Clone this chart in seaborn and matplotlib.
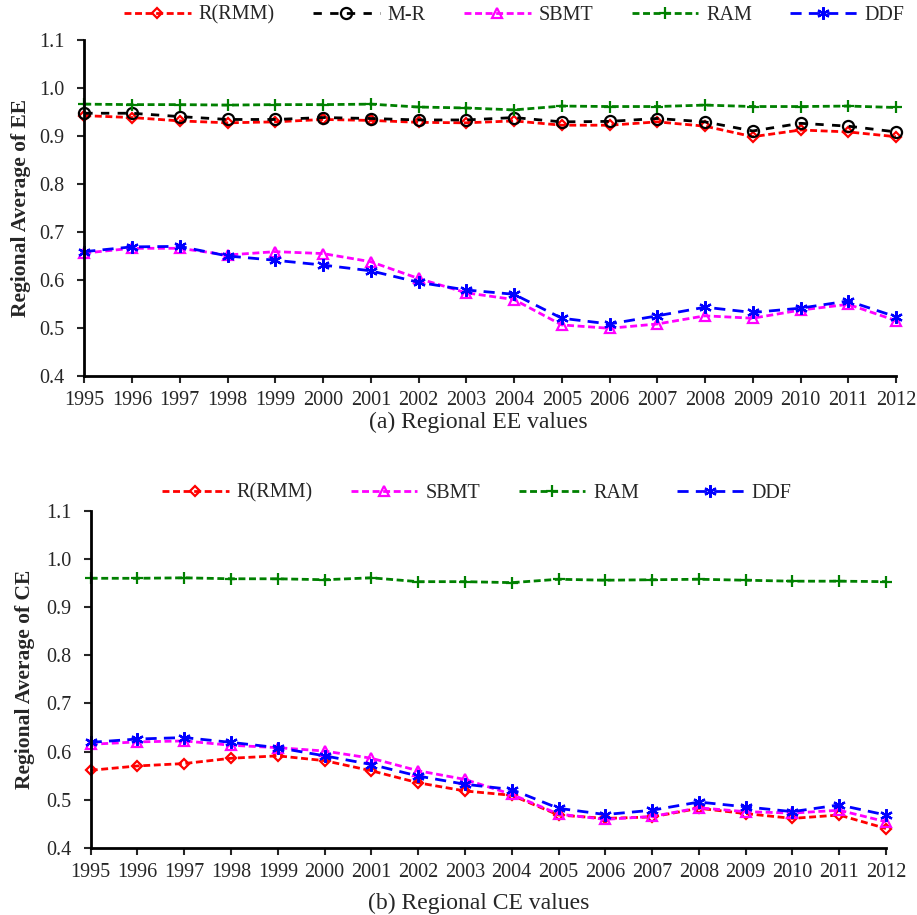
import numpy as np
import pandas as pd
import matplotlib
matplotlib.use("Agg")
import matplotlib.pyplot as plt
import seaborn as sns

years = list(range(1995, 2013))

# (a) Regional EE values
r_rmm_ee = [0.943, 0.939, 0.932, 0.928, 0.930, 0.935, 0.933, 0.929, 0.928,
            0.932, 0.923, 0.923, 0.930, 0.921, 0.899, 0.913, 0.909, 0.899]
mr_ee = [0.948, 0.948, 0.941, 0.935, 0.935, 0.939, 0.937, 0.934, 0.934,
         0.939, 0.930, 0.931, 0.937, 0.930, 0.911, 0.927, 0.921, 0.909]
sbmt_ee = [0.656, 0.666, 0.666, 0.652, 0.659, 0.655, 0.638, 0.603, 0.573,
           0.559, 0.506, 0.499, 0.508, 0.525, 0.520, 0.537, 0.549, 0.515]
ram_ee = [0.967, 0.966, 0.966, 0.965, 0.966, 0.966, 0.967, 0.961, 0.959,
          0.955, 0.963, 0.962, 0.962, 0.965, 0.962, 0.962, 0.963, 0.960]
ddf_ee = [0.659, 0.669, 0.670, 0.650, 0.641, 0.631, 0.619, 0.595, 0.579,
          0.570, 0.520, 0.508, 0.525, 0.543, 0.532, 0.541, 0.556, 0.523]

# (b) Regional CE values
r_rmm_ce = [0.561, 0.570, 0.575, 0.586, 0.591, 0.581, 0.560, 0.535, 0.518,
            0.509, 0.468, 0.461, 0.464, 0.482, 0.471, 0.461, 0.468, 0.440]
sbmt_ce = [0.615, 0.620, 0.622, 0.613, 0.608, 0.601, 0.586, 0.560, 0.542,
           0.511, 0.470, 0.459, 0.465, 0.483, 0.475, 0.472, 0.478, 0.454]
ram_ce = [0.960, 0.960, 0.961, 0.959, 0.959, 0.957, 0.961, 0.953, 0.953,
          0.951, 0.958, 0.956, 0.957, 0.958, 0.956, 0.954, 0.954, 0.953]
ddf_ce = [0.619, 0.626, 0.629, 0.619, 0.608, 0.591, 0.573, 0.549, 0.532,
          0.521, 0.482, 0.469, 0.478, 0.495, 0.485, 0.475, 0.489, 0.468]

# line styles per method
styles = {
    "R(RMM)": dict(color="red", marker="D", ms=5.5, ls=(0, (2.5, 1.3))),
    "M-R": dict(color="black", marker="o", ms=8, ls=(0, (3.0, 3.0))),
    "SBMT": dict(color="magenta", marker="^", ms=7.5, ls=(0, (2.5, 1.3))),
    "RAM": dict(color="green", marker="+", ms=9, ls=(0, (2.5, 1.3))),
    "DDF": dict(color="blue", marker=(6, 2, 0), ms=9, ls=(0, (4.0, 2.6))),
}

sns.set_style("ticks")
plt.rcParams["font.family"] = ["Liberation Serif", "DejaVu Serif"]
plt.rcParams["font.size"] = 14

fig = plt.figure(figsize=(9.17, 9.15), dpi=100)
ax1 = fig.add_axes([0.0919, 0.5894, 0.8852, 0.3664])
ax2 = fig.add_axes([0.0989, 0.0735, 0.8673, 0.3681])


def draw(ax, series, ylabel, label_x):
    for name, vals in series.items():
        st = styles[name]
        sns.lineplot(x=years, y=vals, ax=ax, color=st["color"], marker=st["marker"],
                     markersize=st["ms"], linestyle=st["ls"], linewidth=2,
                     markerfacecolor="none", markeredgecolor=st["color"],
                     markeredgewidth=1.6, label=name, legend=False, clip_on=False)
    ax.set_xlim(1995, 2012)
    ax.set_ylim(0.4, 1.1)
    ax.set_xticks(years)
    ax.set_yticks(np.arange(0.4, 1.11, 0.1))
    ax.set_yticklabels([f"{v:.1f}" for v in np.arange(0.4, 1.11, 0.1)])
    ax.tick_params(axis="both", labelsize=14.5, length=5, width=1.5, direction="out")
    ax.tick_params(axis="y", pad=9)
    ax.tick_params(axis="x", pad=6)
    for s in ["left", "bottom"]:
        ax.spines[s].set_linewidth(2)
        ax.spines[s].set_color("black")
    sns.despine(ax=ax)
    ax.set_xlabel("")
    ax.set_ylabel(ylabel, fontsize=15.5, fontweight="bold")
    ax.yaxis.set_label_coords(label_x, 0.5)


draw(ax1, {"R(RMM)": r_rmm_ee, "M-R": mr_ee, "SBMT": sbmt_ee, "RAM": ram_ee, "DDF": ddf_ee},
     "Regional Average of EE", -0.066)
draw(ax2, {"R(RMM)": r_rmm_ce, "SBMT": sbmt_ce, "RAM": ram_ce, "DDF": ddf_ce},
     "Regional Average of CE", -0.070)

for ax, cx, cy in [(ax1, 0.561, 0.9836), (ax2, 0.520, 0.4612)]:
    h, l = ax.get_legend_handles_labels()
    fig.legend(h, l, loc="center", bbox_to_anchor=(cx, cy), ncol=len(l), frameon=False,
               fontsize=14.5, handlelength=3.3, handletextpad=0.4, columnspacing=1.9,
               numpoints=1)

fig.text(0.522, 1 - 422 / 915, "(a) Regional EE values", ha="center", va="center", fontsize=17)
fig.text(0.522, 1 - 903 / 915, "(b) Regional CE values", ha="center", va="center", fontsize=17)

fig.savefig("out.png", dpi=100)
